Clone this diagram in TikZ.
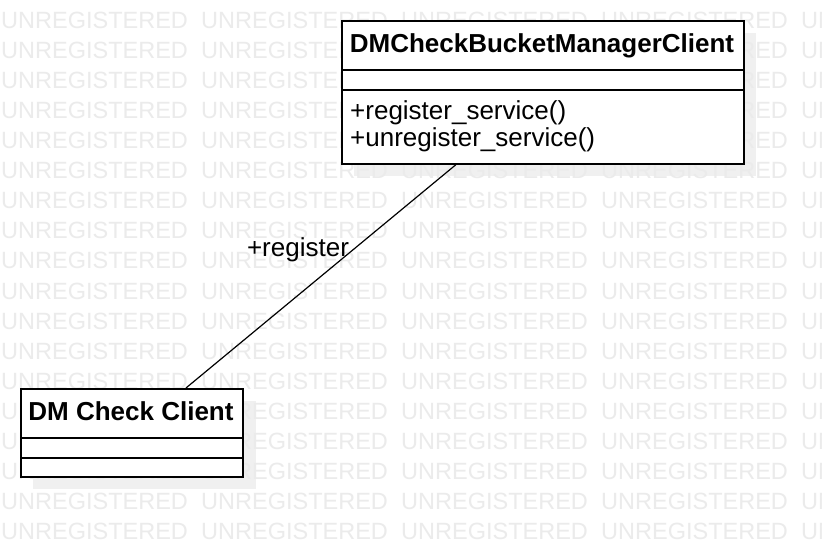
\documentclass[tikz,border=0pt]{standalone}
\usepackage{fontspec}
\setmainfont{Liberation Sans}
\begin{document}
\begin{tikzpicture}[x=1pt,y=-1pt,
  wm/.style={text=black!8, font=\fontsize{23.5}{23.5}\selectfont, anchor=base west, inner sep=0pt},
  classbox/.style={draw=black, line width=1.8pt, fill=white, inner sep=0pt, anchor=north west},
  shadowbox/.style={fill=black!6, draw=none},
  txt/.style={font=\fontsize{26}{26}\selectfont, inner sep=0pt, anchor=base west},
  ttl/.style={font=\bfseries\fontsize{26}{26}\selectfont, inner sep=0pt, anchor=base},
  divider/.style={line width=1.8pt},
  assoc/.style={line width=1.2pt}]
\useasboundingbox (0,0) rectangle (822,556);
\fill[white] (0,0) rectangle (822,556);
% shadows
\fill[shadowbox] (354,33) rectangle (756,176);
\fill[shadowbox] (33,401) rectangle (256,489);
% watermark
\begin{scope}
\clip (0,0) rectangle (822,556);
\foreach \r in {-1,...,17} {
  \foreach \c in {0,...,4} {
    \node[wm] (wm-\r-\c) at (1+200*\c, 29+30*\r) {UNREGISTERED};
  }
}
\end{scope}
% class DMCheckBucketManagerClient
\node[classbox, minimum width=402pt, minimum height=143pt] (dmbm) at (341,20) {};
\draw[divider] ([yshift=-50pt]dmbm.north west) -- ([yshift=-50pt]dmbm.north east);
\draw[divider] ([yshift=-70pt]dmbm.north west) -- ([yshift=-70pt]dmbm.north east);
\node[ttl] (dmbm-title) at (542,53) {DMCheckBucketManagerClient};
\node[txt] (dmbm-op1) at (350,120) {+register\_service()};
\node[txt] (dmbm-op2) at (350,147) {+unregister\_service()};
% class DM Check Client
\node[classbox, minimum width=222pt, minimum height=88pt] (dmc) at (20,388) {};
\draw[divider] ([yshift=-50pt]dmc.north west) -- ([yshift=-50pt]dmc.north east);
\draw[divider] ([yshift=-70pt]dmc.north west) -- ([yshift=-70pt]dmc.north east);
\node[ttl] (dmc-title) at (131,420) {DM Check Client};
% association
\draw[assoc] (dmbm) -- (dmc);
\node[txt, anchor=base] (assoc-label) at (298,257) {+register};
\end{tikzpicture}
\end{document}
